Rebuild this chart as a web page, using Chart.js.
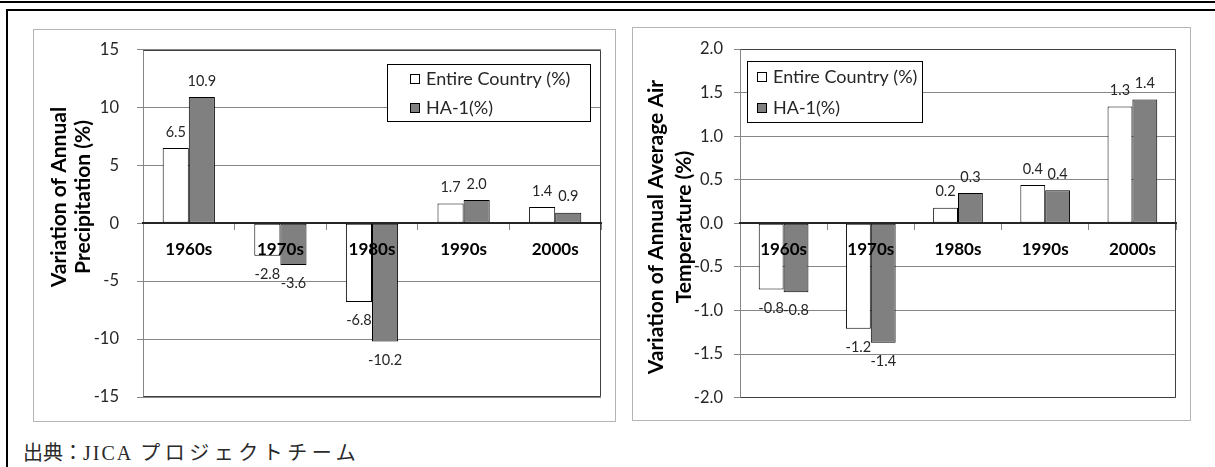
<!DOCTYPE html>
<html>
<head>
<meta charset="utf-8">
<script src="https://cdn.jsdelivr.net/npm/chart.js@4.4.1/dist/chart.umd.min.js"></script>
<style>
  body { margin: 0; width: 1215px; height: 467px; background: #fff; position: relative; overflow: hidden; }
  .rule { position: absolute; left: 0; top: 1px; width: 1215px; height: 2px; background: #000; }
  .frame { position: absolute; left: 6px; top: 9px; width: 1215px; height: 470px; border-left: 2px solid #000; border-top: 2px solid #000; }
  .box { position: absolute; border: 1px solid #b4b4b4; background: #fff; }
  .box canvas { display: block; }
  .source { position: absolute; left: 23px; top: 442px; font-size: 20px; line-height: 22px; font-family: "Liberation Serif", "Noto Sans CJK JP", serif; color: #2a2a2a; white-space: nowrap; }
  .source .latin { letter-spacing: 2px; }
  .source .kana { margin-left: 7px; letter-spacing: 4.5px; }
</style>
</head>
<body>
<div class="rule"></div>
<div class="frame"></div>
<div class="box" style="left:33px; top:29px;"><canvas id="precipChart" width="581" height="391"></canvas></div>
<div class="box" style="left:632px; top:27px;"><canvas id="tempChart" width="557" height="392"></canvas></div>
<div class="source">出典：<span class="latin">JICA</span><span class="kana">プロジェクトチーム</span></div>
<script>
// decade averages, change from baseline
var decades = ['1960s', '1970s', '1980s', '1990s', '2000s'];
var seriesNames = ['Entire Country (%)', 'HA-1(%)'];

var precipCountry = [6.5, -2.8, -6.8, 1.7, 1.4];
var precipHA1 = [10.9, -3.6, -10.2, 2.0, 0.9];
var precipTicks = [15, 10, 5, 0, -5, -10, -15];

var tempCountry = [-0.76, -1.21, 0.18, 0.44, 1.34];
var tempHA1 = [-0.79, -1.37, 0.348, 0.38, 1.42];
var tempTicks = [2.0, 1.5, 1.0, 0.5, 0.0, -0.5, -1.0, -1.5, -2.0];

var FONT = 'Lato, "Open Sans", sans-serif';

// dark frame round the plot area (left side is the y axis line)
var plotFrame = {
    id: 'plotFrame',
    beforeDatasetsDraw: function (chart, args, opts) {
        var ctx = chart.ctx, a = chart.chartArea;
        var l = Math.round(a.left) + 0.5, r = Math.round(a.right) - 0.5;
        var t = Math.round(a.top) + 0.5, b = Math.round(a.bottom) - 0.5;
        ctx.save();
        ctx.strokeStyle = opts.color;
        ctx.lineWidth = 1;
        ctx.beginPath();
        ctx.moveTo(l, t);
        ctx.lineTo(r, t);
        ctx.lineTo(r, b);
        ctx.lineTo(l, b);
        ctx.stroke();
        ctx.restore();
    }
};

// value written above / below every bar
var valueLabels = {
    id: 'valueLabels',
    afterDatasetsDraw: function (chart, args, opts) {
        var ctx = chart.ctx;
        ctx.save();
        ctx.font = opts.size + 'px ' + FONT;
        ctx.fillStyle = opts.color;
        ctx.textAlign = 'center';
        ctx.textBaseline = 'middle';
        chart.data.datasets.forEach(function (ds, i) {
            chart.getDatasetMeta(i).data.forEach(function (bar, j) {
                var v = ds.data[j];
                var y = v >= 0 ? bar.y - opts.above : bar.y + opts.below;
                ctx.fillText(v.toFixed(opts.decimals), bar.x, y);
            });
        });
        ctx.restore();
    }
};

// boxed legend sitting inside the plot area
var boxLegend = {
    id: 'boxLegend',
    afterDraw: function (chart, args, o) {
        var ctx = chart.ctx, a = chart.chartArea;
        var x = Math.round(a.left + o.x), y = Math.round(a.top + o.y);
        ctx.save();
        ctx.fillStyle = '#fff';
        ctx.fillRect(x, y, o.width, o.height);
        ctx.strokeStyle = '#000';
        ctx.lineWidth = 1;
        ctx.strokeRect(x + 0.5, y + 0.5, o.width, o.height);
        ctx.font = o.size + 'px ' + FONT;
        ctx.textAlign = 'left';
        ctx.textBaseline = 'middle';
        chart.data.datasets.forEach(function (ds, i) {
            var ry = Math.round(y + o.rows[i]);
            var mx = x + o.markerX;
            ctx.fillStyle = ds.backgroundColor;
            ctx.fillRect(mx, ry - 5, 10, 10);
            ctx.strokeStyle = '#000';
            ctx.strokeRect(mx + 0.5, ry - 4.5, 9, 9);
            ctx.fillStyle = o.color;
            ctx.fillText(ds.label, mx + o.textGap, ry);
        });
        ctx.restore();
    }
};

// rotated two-line y axis title
var axisTitle = {
    id: 'axisTitle',
    afterDraw: function (chart, args, o) {
        var ctx = chart.ctx;
        ctx.save();
        ctx.font = 'bold ' + o.size + 'px ' + FONT;
        ctx.fillStyle = o.color;
        ctx.textAlign = 'center';
        ctx.textBaseline = 'middle';
        o.lines.forEach(function (line, i) {
            ctx.save();
            ctx.translate(o.x[i], o.y);
            ctx.rotate(-Math.PI / 2);
            ctx.fillText(line, 0, 0);
            ctx.restore();
        });
        ctx.restore();
    }
};

Chart.register(plotFrame, valueLabels, boxLegend, axisTitle);

function decadeChart(id, countryData, ha1Data, ticks, decimals, cfg) {
    var bar = { borderColor: '#000', borderWidth: 1, borderSkipped: false, categoryPercentage: 0.57, barPercentage: 1 };
    return new Chart(document.getElementById(id), {
        type: 'bar',
        data: {
            labels: decades,
            datasets: [
                Object.assign({ label: seriesNames[0], data: countryData, backgroundColor: '#ffffff' }, bar),
                Object.assign({ label: seriesNames[1], data: ha1Data, backgroundColor: '#808080' }, bar)
            ]
        },
        options: {
            responsive: false,
            animation: false,
            devicePixelRatio: 1,
            layout: { padding: cfg.padding },
            plugins: {
                legend: { display: false },
                tooltip: { enabled: false },
                plotFrame: { color: '#404040' },
                valueLabels: { size: 14.5, color: '#262626', above: 16, below: 18.5, decimals: 1 },
                boxLegend: cfg.legend,
                axisTitle: cfg.title
            },
            scales: {
                x: {
                    position: { y: 0 },
                    offset: true,
                    grid: { offset: true, drawOnChartArea: false, drawTicks: true, tickLength: 6, color: '#868686' },
                    border: { color: '#262626', width: 2, z: 1 },
                    ticks: { font: { family: FONT, size: 17, weight: 'bold' }, color: '#000', padding: 10, z: 1, maxRotation: 0, autoSkip: false },
                    afterFit: function (s) { s.paddingLeft = 0; s.paddingRight = 0; }
                },
                y: {
                    min: Math.min.apply(null, ticks),
                    max: Math.max.apply(null, ticks),
                    ticks: {
                        stepSize: ticks[0] - ticks[1],
                        font: { family: FONT, size: 16.5 },
                        color: '#262626',
                        padding: cfg.tickPad,
                        callback: function (v) { return v.toFixed(decimals); }
                    },
                    grid: { color: '#868686', tickLength: 6 },
                    border: { color: '#868686' },
                    afterFit: function (s) { s.width = cfg.axisWidth; s.paddingTop = 0; s.paddingBottom = 0; }
                }
            }
        }
    });
}

decadeChart('precipChart', precipCountry, precipHA1, precipTicks, 0, {
    padding: { left: 0, top: 19.5, right: 14, bottom: 24 },
    axisWidth: 109,
    tickPad: 18,
    legend: { x: 244, y: 14, width: 203, height: 57, markerX: 23, textGap: 16, rows: [14.5, 44], size: 18, color: '#262626' },
    title: { lines: ['Variation of Annual', 'Precipitation (%)'], x: [25.5, 49.5], y: 167, size: 21, color: '#000' }
});

decadeChart('tempChart', tempCountry, tempHA1, tempTicks, 1, {
    padding: { left: 0, top: 21, right: 14, bottom: 22.3 },
    axisWidth: 107,
    tickPad: 11,
    legend: { x: 7, y: 12, width: 175, height: 61, markerX: 10, textGap: 16, rows: [15.5, 47], size: 18, color: '#262626' },
    title: { lines: ['Variation of Annual Average Air', 'Temperature (%)'], x: [23, 51], y: 199, size: 21, color: '#000' }
});
</script>
</body>
</html>
